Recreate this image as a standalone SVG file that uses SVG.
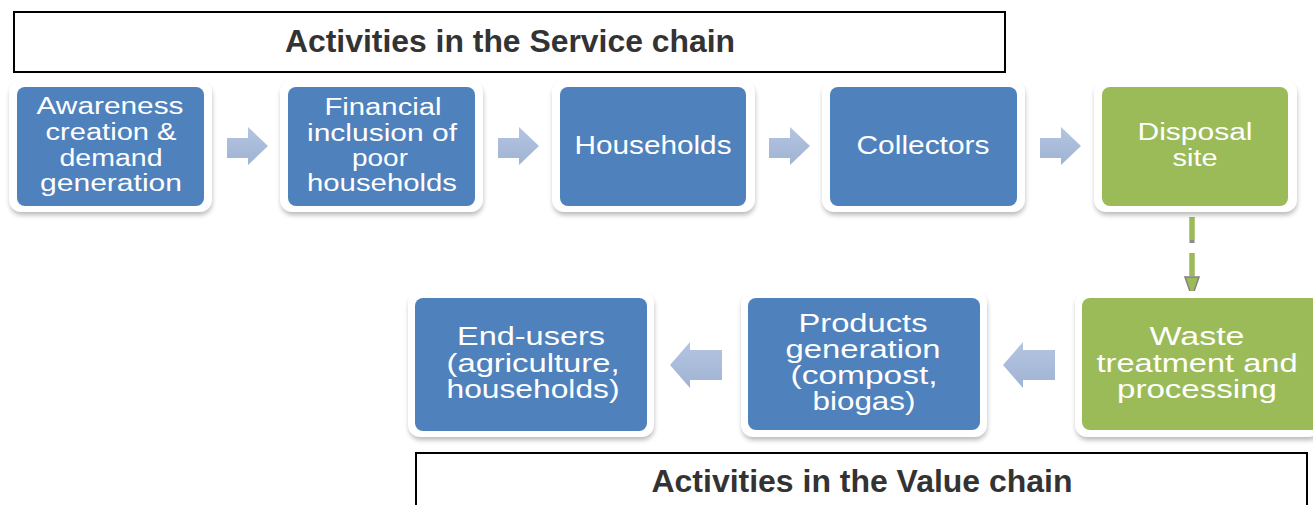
<svg xmlns="http://www.w3.org/2000/svg" width="1313" height="505" viewBox="0 0 1313 505">
<defs>
<style>
.frame{fill:#ffffff;}
.shadow{fill:#000;opacity:0.28;}
.blue{fill:#4f81bd;}
.green{fill:#9bbb59;}
.lbl{font-family:"Liberation Sans",Arial,sans-serif;fill:#ffffff;text-anchor:middle;}
.s23{font-size:23px;}
.s25{font-size:25px;}
.title{font-family:"Liberation Sans",Arial,sans-serif;font-weight:bold;font-size:31px;fill:#333333;text-anchor:middle;}
.tbox{fill:#ffffff;stroke:#000000;stroke-width:2;}
</style>
<filter id="blur" x="-10%" y="-10%" width="120%" height="130%"><feGaussianBlur stdDeviation="2.5"/></filter>
<linearGradient id="ag" x1="0" y1="0" x2="0" y2="1"><stop offset="0" stop-color="#b4c5e0"/><stop offset="1" stop-color="#9fb3d3"/></linearGradient>
</defs>
<rect width="1313" height="505" fill="#ffffff"/>

<g id="title-service">
<rect class="tbox" x="14" y="12" width="991" height="60"/>
<text class="title" x="510" y="52" textLength="450" lengthAdjust="spacingAndGlyphs">Activities in the Service chain</text>
</g>

<g id="connectors">
<polygon fill="url(#ag)" points="227,138 248,138 248,127 268,146 248,165 248,158 227,158"/>
<polygon fill="url(#ag)" points="498,138 519,138 519,127 539,146 519,165 519,158 498,158"/>
<polygon fill="url(#ag)" points="769,138 790,138 790,127 810,146 790,165 790,158 769,158"/>
<polygon fill="url(#ag)" points="1040,138 1061,138 1061,127 1081,146 1061,165 1061,158 1040,158"/>
<polygon fill="url(#ag)" points="1055,350 1023,350 1023,342 1003,365 1023,388 1023,380 1055,380"/>
<polygon fill="url(#ag)" points="722,350 690,350 690,342 670,365 690,388 690,380 722,380"/>
<line x1="1192" y1="217" x2="1192" y2="278" stroke="#9bbb59" stroke-width="5.5" stroke-dasharray="23,13"/>
<rect x="1189.5" y="240" width="5" height="3" fill="#8a8a8a"/>
<polygon points="1185,277 1199,277 1192,297" fill="#9bbb59" stroke="#808080" stroke-width="1.5"/>
</g>

<g id="node-awareness">
<rect class="shadow" x="10" y="84" width="202" height="131" rx="12" filter="url(#blur)"/>
<rect class="frame" x="9" y="80" width="203" height="132" rx="12"/>
<rect class="blue" x="17" y="87" width="187" height="119" rx="8"/>
<text class="lbl s23" x="110" y="114" textLength="147" lengthAdjust="spacingAndGlyphs">Awareness</text>
<text class="lbl s23" x="111" y="140" textLength="131" lengthAdjust="spacingAndGlyphs">creation &amp;</text>
<text class="lbl s23" x="111" y="166" textLength="103" lengthAdjust="spacingAndGlyphs">demand</text>
<text class="lbl s23" x="111" y="191" textLength="142" lengthAdjust="spacingAndGlyphs">generation</text>
</g>

<g id="node-financial">
<rect class="shadow" x="281" y="84" width="202" height="131" rx="12" filter="url(#blur)"/>
<rect class="frame" x="280" y="80" width="203" height="132" rx="12"/>
<rect class="blue" x="288" y="87" width="187" height="119" rx="8"/>
<text class="lbl s23" x="383" y="115" textLength="117" lengthAdjust="spacingAndGlyphs">Financial</text>
<text class="lbl s23" x="382" y="141" textLength="150" lengthAdjust="spacingAndGlyphs">inclusion  of</text>
<text class="lbl s23" x="380" y="166" textLength="56" lengthAdjust="spacingAndGlyphs">poor</text>
<text class="lbl s23" x="382" y="191" textLength="150" lengthAdjust="spacingAndGlyphs">households</text>
</g>

<g id="node-households">
<rect class="shadow" x="553" y="84" width="202" height="131" rx="12" filter="url(#blur)"/>
<rect class="frame" x="552" y="80" width="203" height="132" rx="12"/>
<rect class="blue" x="560" y="87" width="186" height="119" rx="8"/>
<text class="lbl s25" x="653" y="154" textLength="157" lengthAdjust="spacingAndGlyphs">Households</text>
</g>

<g id="node-collectors">
<rect class="shadow" x="823" y="84" width="202" height="131" rx="12" filter="url(#blur)"/>
<rect class="frame" x="822" y="80" width="203" height="132" rx="12"/>
<rect class="blue" x="830" y="87" width="187" height="119" rx="8"/>
<text class="lbl s25" x="923" y="154" textLength="133" lengthAdjust="spacingAndGlyphs">Collectors</text>
</g>

<g id="node-disposal">
<rect class="shadow" x="1095" y="84" width="202" height="131" rx="12" filter="url(#blur)"/>
<rect class="frame" x="1094" y="80" width="203" height="132" rx="12"/>
<rect class="green" x="1102" y="87" width="186" height="119" rx="8"/>
<text class="lbl s23" x="1195" y="140" textLength="115" lengthAdjust="spacingAndGlyphs">Disposal</text>
<text class="lbl s23" x="1195" y="166" textLength="45" lengthAdjust="spacingAndGlyphs">site</text>
</g>

<g id="node-waste">
<rect class="shadow" x="1076" y="295" width="245" height="145" rx="12" filter="url(#blur)"/>
<rect class="frame" x="1075" y="291" width="246" height="146" rx="12"/>
<rect class="green" x="1082" y="298" width="240" height="132" rx="8"/>
<text class="lbl s25" x="1197" y="345" textLength="95" lengthAdjust="spacingAndGlyphs">Waste</text>
<text class="lbl s25" x="1197" y="372" textLength="201" lengthAdjust="spacingAndGlyphs">treatment and</text>
<text class="lbl s25" x="1197" y="398" textLength="160" lengthAdjust="spacingAndGlyphs">processing</text>
</g>

<g id="node-products">
<rect class="shadow" x="742" y="295" width="245" height="145" rx="12" filter="url(#blur)"/>
<rect class="frame" x="741" y="291" width="246" height="146" rx="12"/>
<rect class="blue" x="748" y="298" width="232" height="132" rx="8"/>
<text class="lbl s25" x="863" y="332" textLength="129" lengthAdjust="spacingAndGlyphs">Products</text>
<text class="lbl s25" x="863" y="358" textLength="155" lengthAdjust="spacingAndGlyphs">generation</text>
<text class="lbl s25" x="864" y="384" textLength="147" lengthAdjust="spacingAndGlyphs">(compost,</text>
<text class="lbl s25" x="864" y="410" textLength="103" lengthAdjust="spacingAndGlyphs">biogas)</text>
</g>

<g id="node-endusers">
<rect class="shadow" x="409" y="295" width="245" height="145" rx="12" filter="url(#blur)"/>
<rect class="frame" x="408" y="291" width="246" height="146" rx="12"/>
<rect class="blue" x="415" y="298" width="232" height="133" rx="8"/>
<text class="lbl s25" x="531" y="345" textLength="148" lengthAdjust="spacingAndGlyphs">End-users</text>
<text class="lbl s25" x="533" y="372" textLength="173" lengthAdjust="spacingAndGlyphs">(agriculture,</text>
<text class="lbl s25" x="533" y="398" textLength="173" lengthAdjust="spacingAndGlyphs">households)</text>
</g>

<g id="title-value">
<rect class="tbox" x="416" y="453" width="891" height="60"/>
<text class="title" x="862" y="492" textLength="421" lengthAdjust="spacingAndGlyphs">Activities in the Value chain</text>
</g>
</svg>
